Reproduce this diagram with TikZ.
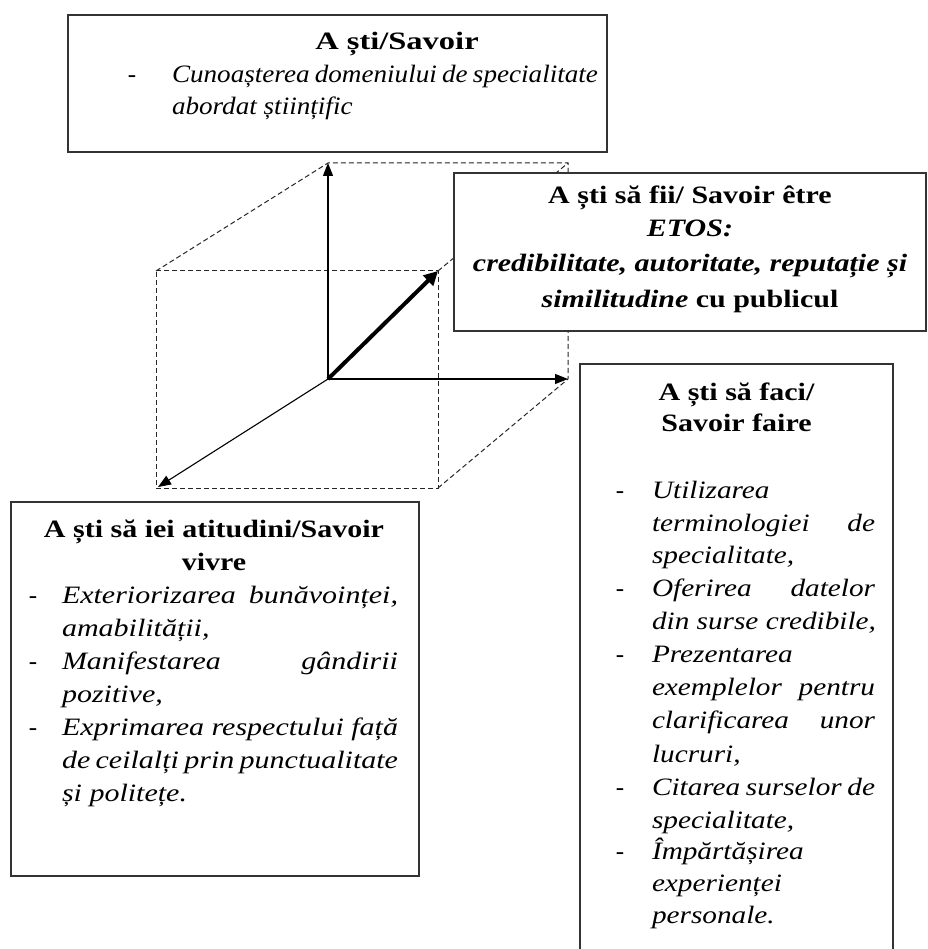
\documentclass[tikz,border=0pt]{standalone}
\usepackage{fontspec}
\setmainfont{Liberation Serif}
\newfontfamily\fhead[FakeStretch=1.2]{Liberation Serif}
\newfontfamily\fheadw[FakeStretch=1.3]{Liberation Serif}
\newfontfamily\ftop[FakeStretch=1.085]{Liberation Serif}
\newfontfamily\fleft[FakeStretch=1.2]{Liberation Serif}
\newfontfamily\fright[FakeStretch=1.17]{Liberation Serif}
\usetikzlibrary{arrows.meta}
\begin{document}
\begin{tikzpicture}[x=1pt,y=-1pt,
  boxline/.style={draw=black!80, line width=1.3pt},
  framebox/.style={boxline, fill=white, inner sep=0pt, outer sep=0pt},
  dline/.style={draw=black!85, line width=1pt, dash pattern=on 5pt off 3pt},
  axis/.style={draw=black, line width=1.1pt, -{Triangle[length=13pt,width=10pt]}},
  thickaxis/.style={draw=black, line width=4pt, -{Triangle[length=14pt,width=14pt]}},
  txt/.style={inner sep=0pt, outer sep=0pt, font=\fontsize{25}{30}\selectfont},
  hd/.style={txt, anchor=base, font=\fontsize{25}{30}\selectfont\fhead\bfseries},
  dsh/.style={txt, anchor=base},
  tl/.style={txt, anchor=base west, font=\fontsize{25}{30}\selectfont\ftop\itshape},
  ll/.style={txt, anchor=base west, font=\fontsize{25}{30}\selectfont\fleft\itshape},
  rl/.style={txt, anchor=base west, font=\fontsize{25}{30}\selectfont\fright\itshape}]
\useasboundingbox (0,0) rectangle (927,949);

% ---- cube ----
\coordinate (O) at (328,379);
\coordinate (Bt) at (328,163);
\coordinate (Btr) at (568,163);
\coordinate (Br) at (568,379);
\coordinate (Ftl) at (156,271);
\coordinate (Ftr) at (438,271);
\coordinate (Fbr) at (438,488);
\coordinate (Fbl) at (156,488);
\coordinate (LL) at (158,487);

\draw[dline] (Ftl) -- (Ftr) -- (Fbr) -- (Fbl) -- cycle;
\draw[dline] (Ftl) -- (Bt) -- (Btr) -- (Br);
\draw[dline] (Ftr) -- (Btr);
\draw[dline] (Fbr) -- (Br);

\draw[axis] (O) -- (Bt);
\draw[axis] (O) -- (Br);
\draw[axis] (O) -- (LL);
\draw[thickaxis] (O) -- (Ftr);

% ---- boxes ----
\node[framebox, minimum width=539pt, minimum height=137pt] (bTop) at (337.5,83.5) {};
\node[framebox, minimum width=472pt, minimum height=158pt] (bEtos) at (690,252) {};
\node[framebox, minimum width=408pt, minimum height=374pt] (bLeft) at (215,689) {};
\coordinate (rb1) at (580,949);
\coordinate (rb2) at (580,364);
\coordinate (rb3) at (893,364);
\coordinate (rb4) at (893,949);
\draw[boxline] (rb1) -- (rb2) -- (rb3) -- (rb4);

% ---- top box text ----
\node[hd, font=\fontsize{25}{30}\selectfont\fheadw\bfseries] (tA) at (397,50) {A ști/Savoir};
\node[dsh] (tD) at (132,83) {-};
\node[tl] (t1) at (172,83) {\makebox[426pt][s]{Cunoașterea domeniului de specialitate}};
\node[tl] (t2) at (172,115) {abordat științific};

% ---- ETOS box text ----
\node[hd] (e1) at (690,204) {A ști să fii/ Savoir être};
\node[hd] (e2) at (690,237) {\itshape ETOS:};
\node[hd] (e3) at (690,272) {\itshape credibilitate, autoritate, reputație și};
\node[hd] (e4) at (690,307) {{\itshape similitudine} cu publicul};

% ---- left box text ----
\node[hd] (lA) at (214,537) {A ști să iei atitudini/Savoir};
\node[hd] (lB) at (214,570) {vivre};
\node[dsh] (lD1) at (33,603) {-};
\node[dsh] (lD2) at (33,669) {-};
\node[dsh] (lD3) at (33,735) {-};
\node[ll] (l1) at (62,603) {\makebox[336pt][s]{Exteriorizarea bunăvoinței,}};
\node[ll] (l2) at (62,636) {amabilității,};
\node[ll] (l3) at (62,669) {\makebox[336pt][s]{Manifestarea gândirii}};
\node[ll] (l4) at (62,702) {pozitive,};
\node[ll] (l5) at (62,735) {\makebox[336pt][s]{Exprimarea respectului față}};
\node[ll] (l6) at (62,768) {\makebox[336pt][s]{de ceilalți prin punctualitate}};
\node[ll] (l7) at (62,801) {și politețe.};

% ---- right box text ----
\node[hd] (rA) at (736.5,400) {A ști să faci/};
\node[hd] (rB) at (736.5,431) {Savoir faire};
\node[dsh] (rD1) at (620,498) {-};
\node[dsh] (rD2) at (620,596) {-};
\node[dsh] (rD3) at (620,662) {-};
\node[dsh] (rD4) at (620,795) {-};
\node[dsh] (rD5) at (620,859) {-};
\node[rl] (r1) at (652,498) {Utilizarea};
\node[rl] (r2) at (652,531) {\makebox[223pt][s]{terminologiei de}};
\node[rl] (r3) at (652,563) {specialitate,};
\node[rl] (r4) at (652,596) {\makebox[223pt][s]{Oferirea datelor}};
\node[rl] (r5) at (652,629) {din surse credibile,};
\node[rl] (r6) at (652,662) {Prezentarea};
\node[rl] (r7) at (652,695) {\makebox[223pt][s]{exemplelor pentru}};
\node[rl] (r8) at (652,728) {\makebox[223pt][s]{clarificarea unor}};
\node[rl] (r9) at (652,762) {lucruri,};
\node[rl] (r10) at (652,795) {\makebox[223pt][s]{Citarea surselor de}};
\node[rl] (r11) at (652,828) {specialitate,};
\node[rl] (r12) at (652,859) {Împărtășirea};
\node[rl] (r13) at (652,891) {experienței};
\node[rl] (r14) at (652,923) {personale.};
\end{tikzpicture}
\end{document}
